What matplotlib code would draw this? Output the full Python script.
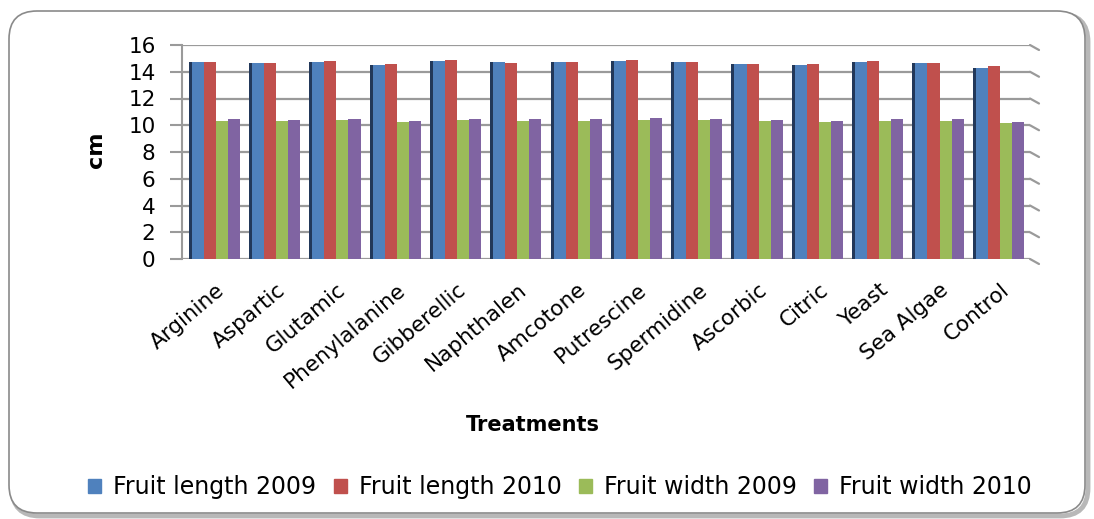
import numpy as np
import matplotlib
matplotlib.use("Agg")
import matplotlib.pyplot as plt
from matplotlib.patches import FancyBboxPatch, Patch
from matplotlib.transforms import IdentityTransform, ScaledTranslation, blended_transform_factory

categories = ["Arginine", "Aspartic", "Glutamic", "Phenylalanine", "Gibberellic",
              "Naphthalen", "Amcotone", "Putrescine", "Spermidine", "Ascorbic",
              "Citric", "Yeast", "Sea Algae", "Control"]
length_2009 = [14.70, 14.65, 14.75, 14.50, 14.80, 14.70, 14.75, 14.80, 14.73, 14.57, 14.50, 14.73, 14.63, 14.30]
length_2010 = [14.75, 14.65, 14.80, 14.55, 14.85, 14.65, 14.75, 14.88, 14.73, 14.60, 14.55, 14.78, 14.63, 14.40]
width_2009 = [10.30, 10.30, 10.40, 10.25, 10.40, 10.35, 10.35, 10.40, 10.40, 10.30, 10.25, 10.35, 10.30, 10.15]
width_2010 = [10.45, 10.40, 10.50, 10.35, 10.50, 10.45, 10.45, 10.55, 10.48, 10.40, 10.35, 10.45, 10.45, 10.25]
series_names = ["Fruit length 2009", "Fruit length 2010", "Fruit width 2009", "Fruit width 2010"]
colors = ["#4F81BD", "#C0504D", "#9BBB59", "#8064A2"]

fig = plt.figure(figsize=(10.94, 5.19), dpi=100)

# rounded chart frame with a soft shadow, kept behind the axes
shadow = FancyBboxPatch((12, 3), 1076, 502, boxstyle="round,pad=0,rounding_size=28",
                        transform=IdentityTransform(), facecolor="none",
                        edgecolor="#b8b8b8", linewidth=3.5, zorder=-2)
frame = FancyBboxPatch((9, 6), 1076, 502, boxstyle="round,pad=0,rounding_size=28",
                       transform=IdentityTransform(), facecolor="white",
                       edgecolor="#8a8a8a", linewidth=1.2, zorder=-1)
fig.patches.extend([shadow, frame])

ax = fig.add_axes([182 / 1094, 1 - 259 / 519, (1030 - 182) / 1094, (259 - 45) / 519])
ax.set_facecolor("none")

x = np.arange(len(categories))
w = 0.2
series = [length_2009, length_2010, width_2009, width_2010]
for i, (vals, c, name) in enumerate(zip(series, colors, series_names)):
    ax.bar(x + (i - 1.5) * w, vals, w, color=c, label=name, zorder=3)
# dark side face of the front bar
ax.bar(x - 2 * w - 0.025, length_2009, 0.05, color="#22385A", zorder=3)

ax.set_ylim(0, 16)
ax.set_yticks(range(0, 17, 2))
ax.set_xlim(-0.56, 13.5)
ax.set_xticks(x)
ax.set_xticklabels(categories, rotation=40, ha="right", rotation_mode="anchor", fontsize=15.5)
for lab in ax.get_xticklabels():
    lab.set_transform(lab.get_transform() + ScaledTranslation(0.1, 0, fig.dpi_scale_trans))
ax.tick_params(axis="x", length=0, pad=15)
ax.tick_params(axis="y", length=9, width=1.5, color="#9a9a9a", labelsize=15.5, pad=10)

ax.grid(axis="y", color="#9a9a9a", linewidth=1.6, zorder=0)
for s in ["top", "right", "bottom"]:
    ax.spines[s].set_visible(False)
ax.spines["left"].set_color("#9a9a9a")
ax.spines["left"].set_linewidth(1.5)

# depth segments at the back wall
tr = blended_transform_factory(ax.transAxes, ax.transData)
for yv in range(0, 17, 2):
    ax.annotate("", xy=(1, yv), xycoords=tr, xytext=(9 * 0.72, -5 * 0.72),
                textcoords="offset points",
                arrowprops=dict(arrowstyle="-", color="#9a9a9a", lw=1.6,
                                shrinkA=0, shrinkB=0))

fig.text(96 / 1094, 1 - 150 / 519, "cm", rotation=90, fontsize=16,
         fontweight="bold", ha="center", va="center")
fig.text(533 / 1094, 1 - 425 / 519, "Treatments", fontsize=15,
         fontweight="bold", ha="center", va="center")

handles = [Patch(color=c) for c in colors]
fig.legend(handles, series_names, loc="center", bbox_to_anchor=(0.512, 1 - 487 / 519),
           ncol=4, frameon=False, fontsize=17, handlelength=0.55, handleheight=0.55,
           handletextpad=0.5, columnspacing=0.75)

fig.savefig("out.png", dpi=100)
